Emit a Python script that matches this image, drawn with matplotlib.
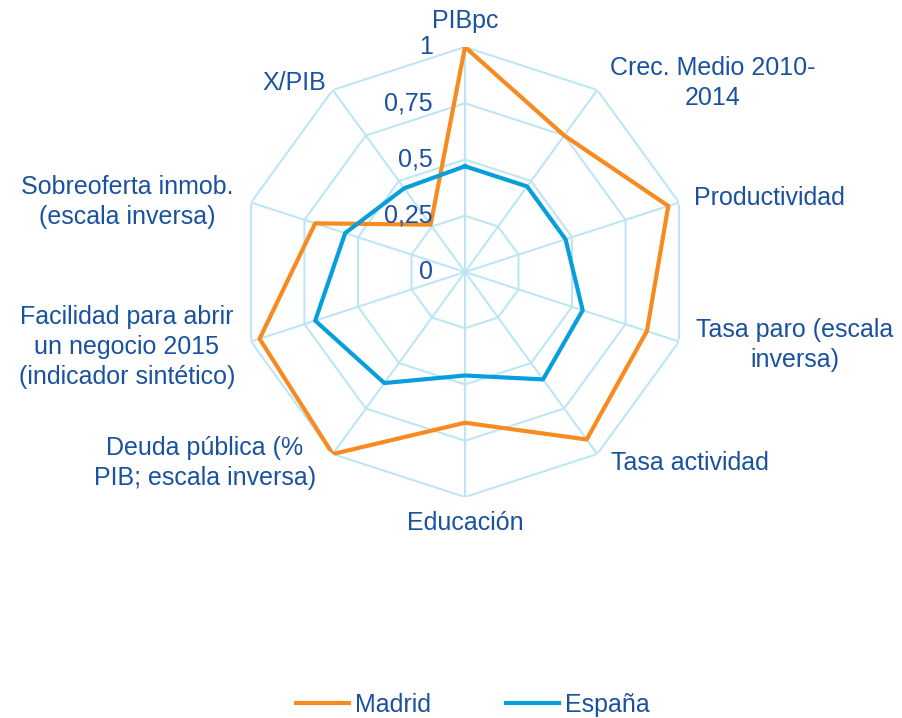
import numpy as np
import matplotlib
matplotlib.use('Agg')
import matplotlib.pyplot as plt

plt.rcParams['font.family'] = ['Liberation Sans', 'DejaVu Sans']

categories = ['PIBpc', 'Crec. Medio 2010-\n2014', 'Productividad',
              'Tasa paro (escala\ninversa)', 'Tasa actividad', 'Educación',
              'Deuda pública (%\nPIB; escala inversa)',
              'Facilidad para abrir\nun negocio 2015\n(indicador sintético)',
              'Sobreoferta inmob.\n(escala inversa)', 'X/PIB']
madrid = [1.0, 0.75, 0.95, 0.85, 0.92, 0.67, 1.0, 0.96, 0.70, 0.26]
espana = [0.47, 0.47, 0.47, 0.55, 0.59, 0.46, 0.61, 0.70, 0.56, 0.46]
ticks = [0, 0.25, 0.5, 0.75, 1]
tick_labels = ['0', '0,25', '0,5', '0,75', '1']

text_c = '#1a52a0'
grid_c = '#bde6f5'
orange = '#f78b1f'
blue = '#069fdc'
fs = 18

W, H = 903, 718
fig = plt.figure(figsize=(W / 100, H / 100), dpi=100)
cx, cy, R = 465, 272, 225
ax = fig.add_axes([(cx - R) / W, 1 - (cy + R) / H, 2 * R / W, 2 * R / H],
                  projection='polar')
ax.set_theta_zero_location('N')
ax.set_theta_direction(-1)
ax.set_ylim(0, 1)
ax.axis('off')

n = len(categories)
theta = np.linspace(0, 2 * np.pi, n, endpoint=False)
closed = np.append(theta, theta[0])

# polygon grid
for r in ticks[1:]:
    ax.plot(closed, [r] * (n + 1), color=grid_c, lw=1.5, zorder=1)
for t in theta:
    ax.plot([t, t], [0, 1], color=grid_c, lw=1.5, zorder=1)

ax.plot(closed, madrid + madrid[:1], color=orange, lw=3, label='Madrid', zorder=3)
ax.plot(closed, espana + espana[:1], color=blue, lw=3, label='España', zorder=3)

for v, lab in zip(ticks, tick_labels):
    ax.annotate(lab, xy=(0, v), xytext=(-32, 0), textcoords='offset pixels',
                ha='right', va='center', fontsize=fs, color=text_c, zorder=4)

# category label positions in pixels (centre of text block)
label_pos = [(465, 21), (713, 83), (769, 198), (795, 345), (690, 463),
             (465, 523), (205, 463), (127, 347), (127, 202), (294, 83)]
for lab, (x, y) in zip(categories, label_pos):
    fig.text(x / W, 1 - y / H, lab, ha='center', va='center',
             multialignment='center', fontsize=fs, color=text_c,
             linespacing=1.3)

leg = fig.legend(loc='center', bbox_to_anchor=(473 / W, 1 - 705 / H), ncol=2,
                 frameon=False, fontsize=fs, handlelength=2.1,
                 columnspacing=3.0, handletextpad=0.25)
for t in leg.get_texts():
    t.set_color(text_c)

fig.savefig('out.png', dpi=100)
